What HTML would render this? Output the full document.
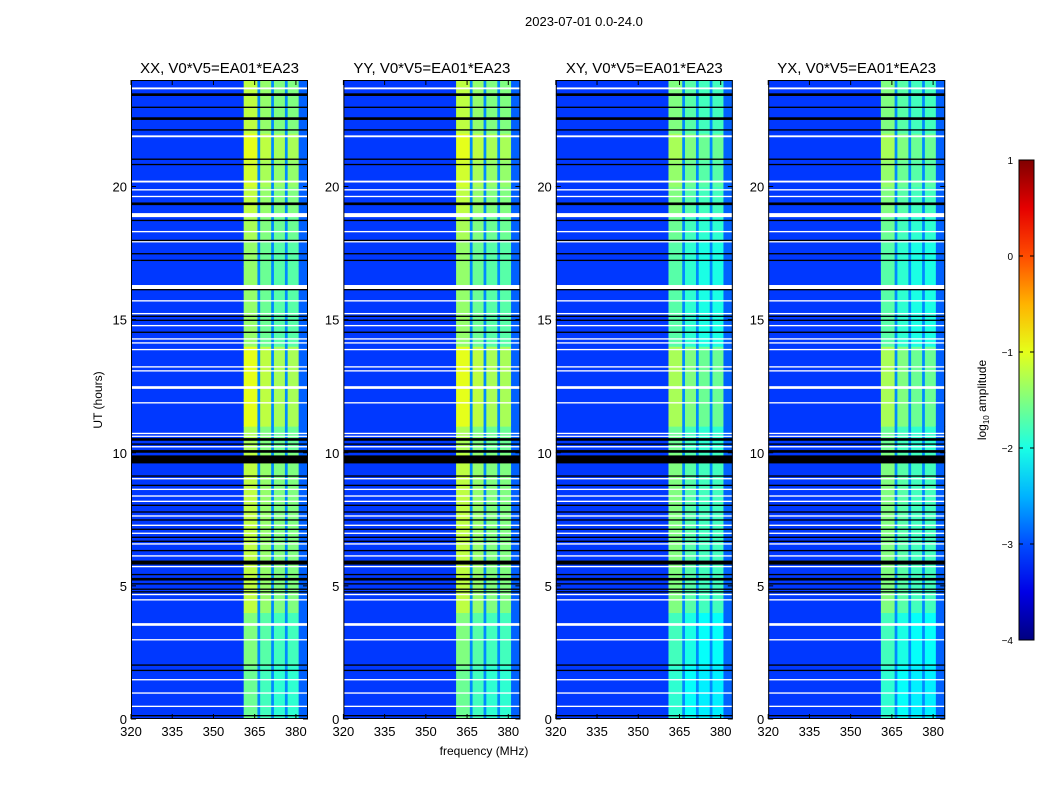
<!DOCTYPE html>
<html><head><meta charset="utf-8"><style>
body{margin:0;background:#fff;font-family:"Liberation Sans",sans-serif;}
#wrap{position:relative;width:1050px;height:800px;overflow:hidden;}
.t{position:absolute;font-size:13px;color:#000;white-space:nowrap;}
</style></head><body>
<div id="wrap">
<div class="t" style="left:525px;top:14px">2023-07-01 0.0-24.0</div>
<svg id="svg" width="1050" height="800" style="position:absolute;left:0;top:0"></svg>
</div>
<script>
const panelTitles=["XX, V0*V5=EA01*EA23","YY, V0*V5=EA01*EA23","XY, V0*V5=EA01*EA23","YX, V0*V5=EA01*EA23"];
const panelOffset=[0,0,-0.3,-0.3];
const segStart=[320,361,366,367,371,372,376,377,381];
const segEnd=[361,366,367,371,372,376,377,381,385];
const segLevel=[-3.1,-1.2,-2.7,-1.4,-2.7,-1.5,-2.7,-1.5,-2.9];
const timeBoost=[-0.4,-0.4,-0.3,-0.3,0,0,0,0,0,0,-0.1,0.2,0.2,0.2,-0.2,-0.2,-0.2,-0.2,-0.1,0,0.1,0.2,0,0];
const whiteBands=[[23.65,23.72],[21.85,21.92],[20.15,20.22],[19.85,19.9],[19.6,19.65],[18.85,19.0],[18.28,18.33],[17.9,17.95],[16.15,16.3],[15.68,15.73],[15.2,15.25],[14.75,14.8],[14.25,14.3],[14.1,14.15],[13.85,13.9],[13.2,13.25],[13.05,13.1],[12.4,12.5],[11.85,11.9],[10.7,10.75],[10.6,10.64],[10.2,10.25],[9.0,9.05],[8.6,8.65],[8.35,8.4],[8.15,8.2],[7.6,7.65],[7.25,7.3],[6.95,7.0],[6.55,6.6],[6.1,6.15],[5.7,5.75],[4.65,4.7],[4.45,4.5],[3.5,3.6],[2.95,3.0],[1.45,1.5],[0.95,1.0],[0.45,0.5]];
const blackBands=[[23.4,23.5],[22.95,23.0],[22.5,22.6],[22.1,22.15],[21.0,21.05],[20.8,20.85],[19.3,19.4],[18.7,18.75],[17.95,18.0],[17.45,17.5],[17.2,17.25],[16.1,16.15],[15.1,15.15],[14.95,15.0],[14.5,14.55],[10.45,10.55],[10.3,10.35],[10.0,10.1],[9.6,9.9],[9.1,9.15],[8.75,8.8],[8.0,8.05],[7.75,7.8],[7.45,7.5],[7.1,7.15],[6.8,6.85],[6.65,6.7],[6.3,6.35],[5.8,5.95],[5.4,5.45],[5.2,5.3],[5.05,5.1],[4.85,4.9],[4.75,4.8],[2.0,2.05],[1.8,1.85],[0.1,0.15]];
const xTicks=[320,335,350,365,380];
const yTicks=[0,5,10,15,20];
const cbTicks=[1,0,-1,-2,-3,-4];

const NS="http://www.w3.org/2000/svg";
const svg=document.getElementById('svg');
function jet(v){v=Math.max(0,Math.min(1,v));
 const r=Math.max(0,Math.min(1,1.5-Math.abs(4*v-3)));
 const g=Math.max(0,Math.min(1,1.5-Math.abs(4*v-2)));
 const b=Math.max(0,Math.min(1,1.5-Math.abs(4*v-1)));
 return `rgb(${Math.round(r*255)},${Math.round(g*255)},${Math.round(b*255)})`;}
function colorOf(l){return jet((l+4)/5);}
function mk(tag,attrs,parent){const e=document.createElementNS(NS,tag);for(const k in attrs)e.setAttribute(k,attrs[k]);(parent||svg).appendChild(e);return e;}
const pTop=80,pBot=719,W=177,fMin=320,fMax=384.4;
const yOf=h=>pBot-(h/24)*(pBot-pTop);
for(let p=0;p<4;p++){
 const x0=131+p*212.4;
 const xOf=f=>x0+(f-fMin)/(fMax-fMin)*W;
 const g=mk('g',{});
 
 
 const cp=mk('clipPath',{id:'cp'+p},g);mk('rect',{x:x0,y:pTop,width:W,height:pBot-pTop},cp);
 const hm=mk('g',{'clip-path':`url(#cp${p})`},g);
 
 
 for(let s=0;s<segStart.length;s++){
  for(let h=0;h<24;h++){
   let l=segLevel[s];
   if(l>-2.5) l+=timeBoost[h]+panelOffset[p];
   const r=mk('rect',{x:xOf(segStart[s]),y:yOf(h+1),width:xOf(segEnd[s])-xOf(segStart[s])+0.5,height:yOf(h)-yOf(h+1)+0.5,fill:colorOf(l)},hm);
   
   
  }
 }
 whiteBands.forEach(b=>{const r=mk('rect',{x:x0,y:yOf(b[1]),width:W,height:Math.max(1.2,yOf(b[0])-yOf(b[1])),fill:'#fff'},hm);
  
  });
 blackBands.forEach(b=>{const r=mk('rect',{x:x0,y:yOf(b[1]),width:W,height:Math.max(1.2,yOf(b[0])-yOf(b[1])),fill:'#000'},hm);
  
  });
 const fr=mk('rect',{x:x0+0.5,y:pTop+0.5,width:W-1,height:pBot-pTop-1,fill:'none',stroke:'#000','stroke-width':1},g);
 
 
 const tt=mk('text',{x:x0+W/2,y:73,'text-anchor':'middle','font-size':15,'font-family':'Liberation Sans, sans-serif'},g);
 tt.textContent=panelTitles[p];
 
 
 xTicks.forEach(t=>{const x=xOf(t);
  mk('line',{x1:x,x2:x,y1:pBot,y2:pBot-5,stroke:'#000'},g);mk('line',{x1:x,x2:x,y1:pTop,y2:pTop+5,stroke:'#000'},g);
  const tx=mk('text',{x:x,y:736,'text-anchor':'middle','font-size':13,'font-family':'Liberation Sans, sans-serif'},g);tx.textContent=t;
  
  });
 yTicks.forEach(t=>{const y=yOf(t);
  mk('line',{x1:x0,x2:x0+5,y1:y,y2:y,stroke:'#000'},g);mk('line',{x1:x0+W,x2:x0+W-5,y1:y,y2:y,stroke:'#000'},g);
  const ty=mk('text',{x:x0-4,y:y+5,'text-anchor':'end','font-size':13,'font-family':'Liberation Sans, sans-serif'},g);ty.textContent=t;
  
  });
}
const xl=mk('text',{x:484,y:755,'text-anchor':'middle','font-size':12,'font-family':'Liberation Sans, sans-serif'});xl.textContent='frequency (MHz)';


const yl=mk('text',{x:102,y:400,'text-anchor':'middle','font-size':12,'font-family':'Liberation Sans, sans-serif',transform:'rotate(-90 102 400)'});yl.textContent='UT (hours)';


const cb=mk('g',{});


const grad=mk('linearGradient',{id:'jg',x1:0,y1:1,x2:0,y2:0},mk('defs',{},cb));
for(let i=0;i<=10;i++)mk('stop',{offset:i/10,'stop-color':jet(i/10)},grad);
const cbT=160,cbB=640,cbX=1019;
mk('rect',{x:cbX,y:cbT,width:15,height:cbB-cbT,fill:'url(#jg)',stroke:'#000'},cb);
const cyOf=v=>cbB-(v+4)/5*(cbB-cbT);
cbTicks.forEach(t=>{const y=cyOf(t);
 mk('line',{x1:cbX,x2:cbX+4,y1:y,y2:y,stroke:'#000'},cb);mk('line',{x1:cbX+15,x2:cbX+11,y1:y,y2:y,stroke:'#000'},cb);
 const tx=mk('text',{x:1013,y:y+4,'text-anchor':'end','font-size':10,'font-family':'Liberation Sans, sans-serif'},cb);tx.textContent=t<0?'\u2212'+(-t):t;
 
 });
const cl=mk('text',{x:986,y:400,'text-anchor':'middle','font-size':12,'font-family':'Liberation Sans, sans-serif',transform:'rotate(-90 986 400)'},cb);
cl.innerHTML='log<tspan font-size="8" dy="3">10</tspan><tspan dy="-3"> amplitude</tspan>';


</script>
</body></html>
